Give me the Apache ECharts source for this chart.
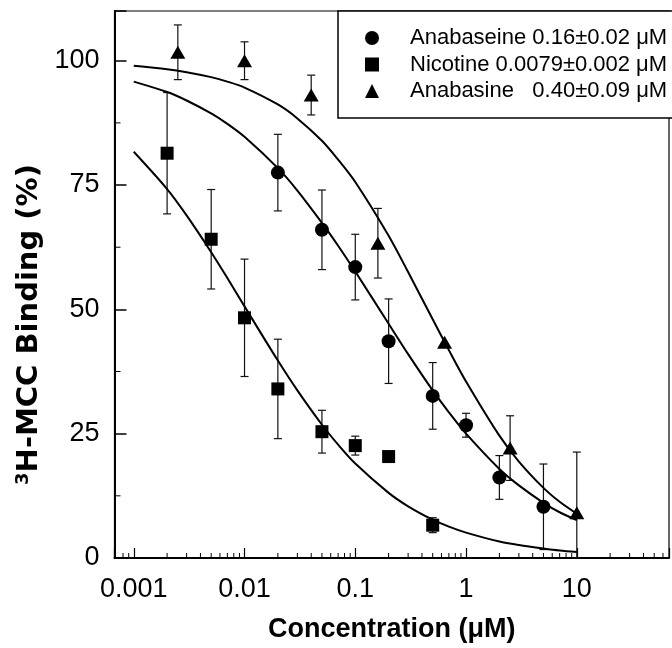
<!DOCTYPE html>
<html>
<head>
<meta charset="utf-8">
<script src="https://cdn.jsdelivr.net/npm/echarts@6/dist/echarts.min.js"></script>
<style>
  html, body { margin: 0; padding: 0; background: #fff; }
  #chart { width: 672px; height: 648px; }
</style>
</head>
<body>
<div id="chart"></div>
<script>
// ---- data ----
const seriesNames = ['Anabaseine 0.16\u00b10.02 \u03bcM', 'Nicotine 0.0079\u00b10.002 \u03bcM', 'Anabasine   0.40\u00b10.09 \u03bcM'];

const anabaseineX = [0.02, 0.05, 0.1, 0.2, 0.5, 1, 2, 5];
const anabaseineY = [77.5, 66, 58.5, 43.6, 32.6, 26.7, 16.2, 10.3];
const anabaseineErr = [7.7, 8, 6.6, 8.5, 6.7, 2.4, 4.4, 8.6];

const nicotineX = [0.002, 0.005, 0.01, 0.02, 0.05, 0.1, 0.2, 0.5];
const nicotineY = [81.4, 64.1, 48.3, 34, 25.4, 22.6, 20.4, 6.6];
const nicotineErr = [12.2, 10, 11.8, 10, 4.3, 1.9, 0, 1.5];

const anabasineX = [0.0025, 0.01, 0.04, 0.16, 0.64, 2.5, 10];
const anabasineY = [101.7, 100, 93.1, 63.3, 43.4, 22.1, 9.1];
const anabasineErr = [5.5, 3.8, 4, 7, 0, 6.5, 12.2];

// fitted curves
const fitX = [0.001, 0.002, 0.003, 0.005, 0.007, 0.01, 0.02, 0.03, 0.05, 0.07, 0.1, 0.2, 0.3, 0.5, 0.7, 1, 2, 3, 5, 7, 10];
const anabaseineFit = [95.8, 93.7, 92.0, 89.4, 87.3, 84.7, 78.4, 73.9, 67.4, 62.8, 57.6, 47.1, 41.0, 33.7, 29.3, 25.0, 17.9, 14.6, 11.1, 9.2, 7.6];
const nicotineFit = [81.7, 74.2, 68.9, 61.5, 56.3, 50.6, 39.7, 33.7, 26.8, 22.8, 19.0, 13.1, 10.4, 7.7, 6.3, 5.1, 3.3, 2.6, 1.9, 1.5, 1.2];
const anabasineFit = [99.0, 98.3, 97.7, 96.7, 95.8, 94.6, 91.2, 88.4, 83.9, 80.1, 75.6, 64.8, 57.5, 48.0, 41.8, 35.5, 24.6, 19.4, 14.1, 11.3, 8.9];

// axes
const xMin = 0.00067, xMax = 68;
const yMin = 0, yMax = 110;
const xTickLabels = ['0.001', '0.01', '0.1', '1', '10'];
const yTickLabels = [0, 25, 50, 75, 100];
const xMinorTicks = [0.0008, 0.0009,
  0.002, 0.003, 0.004, 0.005, 0.006, 0.007, 0.008, 0.009,
  0.02, 0.03, 0.04, 0.05, 0.06, 0.07, 0.08, 0.09,
  0.2, 0.3, 0.4, 0.5, 0.6, 0.7, 0.8, 0.9,
  2, 3, 4, 5, 6, 7, 8, 9,
  20, 30, 40, 50, 60];
const yMinorTicks = [12.5, 37.5, 62.5, 87.5];

// ---- build ----
function zip(xs, ys) { return xs.map((x, i) => [x, ys[i]]); }
function zip3(xs, ys, es) { return xs.map((x, i) => [x, ys[i], es[i]]); }

function errorSeries(xs, ys, es) {
  return {
    type: 'custom',
    name: 'err',
    z: 1,
    silent: true,
    data: zip3(xs, ys, es),
    renderItem: function (params, api) {
      const x = api.value(0), y = api.value(1), e = api.value(2);
      if (!e) return null;
      const hi = api.coord([x, Math.min(yMax, y + e)]);
      const lo = api.coord([x, Math.max(yMin, y - e)]);
      const w = 4;
      const st = { stroke: '#111', lineWidth: 1.2 };
      return {
        type: 'group',
        children: [
          { type: 'line', shape: { x1: hi[0], y1: hi[1], x2: lo[0], y2: lo[1] }, style: st },
          { type: 'line', shape: { x1: hi[0] - w, y1: hi[1], x2: hi[0] + w, y2: hi[1] }, style: st },
          { type: 'line', shape: { x1: lo[0] - w, y1: lo[1], x2: lo[0] + w, y2: lo[1] }, style: st }
        ]
      };
    }
  };
}

function fitSeries(ys) {
  return {
    type: 'line',
    name: 'fit',
    data: zip(fitX, ys),
    showSymbol: false,
    smooth: 0.3,
    silent: true,
    z: 2,
    lineStyle: { color: '#000', width: 2 },
    itemStyle: { color: '#000' }
  };
}

function pointSeries(name, xs, ys, symbol, size) {
  return {
    type: 'scatter',
    name: name,
    data: zip(xs, ys),
    symbol: symbol,
    symbolSize: size,
    z: 3,
    itemStyle: { color: '#000', opacity: 1 }
  };
}

const minorXSeries = {
  type: 'custom', name: 'minorX', silent: true, z: 4,
  data: xMinorTicks.map(v => [v, 0]),
  renderItem: function (params, api) {
    const px = api.coord([api.value(0), 1])[0];
    const by = params.coordSys.y + params.coordSys.height;
    return { type: 'line', shape: { x1: px, y1: by, x2: px, y2: by - 5 }, style: { stroke: '#000', lineWidth: 1 } };
  }
};
const minorYSeries = {
  type: 'custom', name: 'minorY', silent: true, z: 4,
  data: yMinorTicks.map(v => [1, v]),
  renderItem: function (params, api) {
    const py = api.coord([1, api.value(1)])[1];
    const lx = params.coordSys.x;
    return { type: 'line', shape: { x1: lx, y1: py, x2: lx + 6, y2: py }, style: { stroke: '#000', lineWidth: 1 } };
  }
};

const chart = echarts.init(document.getElementById('chart'), null, { renderer: 'canvas' });
chart.setOption({
  animation: false,
  backgroundColor: '#fff',
  grid: { left: 114.5, right: 1.5, top: 11, bottom: 90, show: true, borderColor: '#000', borderWidth: 1.2, backgroundColor: 'transparent' },
  legend: {
    data: seriesNames.map((n, i) => ({ name: n, icon: ['circle', 'rect', 'triangle'][i] })),
    orient: 'vertical',
    left: 338, top: 11,
    padding: [16, 6, 16, 27],
    itemGap: 4.5,
    itemWidth: 14, itemHeight: 14,
    backgroundColor: '#fff',
    borderColor: '#000', borderWidth: 1.5,
    formatter: '{t|{name}}',
    textStyle: {
      rich: { t: { fontFamily: 'Liberation Sans, Arial, sans-serif', fontSize: 22, lineHeight: 22, color: '#000', padding: [0, 0, 0, 26] } }
    }
  },
  xAxis: {
    type: 'log', logBase: 10, min: xMin, max: xMax,
    name: 'Concentration (\u03bcM)', nameLocation: 'middle', nameGap: 58,
    nameTextStyle: { fontFamily: 'Liberation Sans, Arial, sans-serif', fontWeight: 'bold', fontSize: 27, color: '#000' },
    axisLine: { show: true, lineStyle: { color: '#000', width: 2 } },
    axisTick: { show: true, inside: true, length: 10, lineStyle: { color: '#000', width: 1.2 } },
    splitLine: { show: false },
    axisLabel: {
      margin: 18, color: '#000', fontSize: 27, fontFamily: 'Liberation Sans, Arial, sans-serif',
      formatter: function (v) {
        const l = Math.log10(v), r = Math.round(l);
        if (Math.abs(l - r) > 1e-6) return '';
        const idx = r + 3;
        return (idx >= 0 && idx < xTickLabels.length) ? xTickLabels[idx] : '';
      }
    }
  },
  yAxis: {
    type: 'value', min: yMin, max: yMax, interval: 25,
    name: '{s|3}{b|H-MCC Binding (%)}', nameLocation: 'middle', nameGap: 70, nameRotate: 90,
    nameTextStyle: {
      padding: [0, 80, 0, 0],
      rich: {
        s: { fontFamily: 'DejaVu Sans, sans-serif', fontWeight: 'bold', fontSize: 18, color: '#000', verticalAlign: 'top', padding: [0, 0, 12, 0] },
        b: { fontFamily: 'DejaVu Sans, sans-serif', fontWeight: 'bold', fontSize: 29, color: '#000' }
      }
    },
    axisLine: { show: true, lineStyle: { color: '#000', width: 2 } },
    axisTick: { show: true, inside: true, length: 12, lineStyle: { color: '#000', width: 1.5 } },
    splitLine: { show: false },
    axisLabel: {
      margin: 15, color: '#000', fontSize: 27, fontFamily: 'Liberation Sans, Arial, sans-serif',
      formatter: function (v) { return yTickLabels.indexOf(v) >= 0 ? String(v) : ''; }
    }
  },
  series: [
    errorSeries(anabaseineX, anabaseineY, anabaseineErr),
    errorSeries(nicotineX, nicotineY, nicotineErr),
    errorSeries(anabasineX, anabasineY, anabasineErr),
    fitSeries(anabaseineFit),
    fitSeries(nicotineFit),
    fitSeries(anabasineFit),
    pointSeries(seriesNames[0], anabaseineX, anabaseineY, 'circle', 14),
    pointSeries(seriesNames[1], nicotineX, nicotineY, 'rect', 13),
    pointSeries(seriesNames[2], anabasineX, anabasineY, 'triangle', [15, 13]),
    minorXSeries,
    minorYSeries
  ]
});
</script>
</body>
</html>
